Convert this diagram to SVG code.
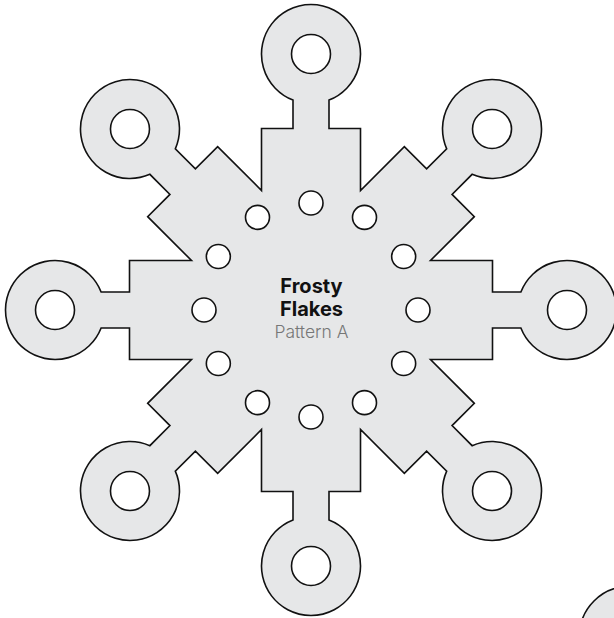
<svg xmlns="http://www.w3.org/2000/svg" width="614" height="618" viewBox="0 0 614 618">
<style>
.body{fill:#e6e7e8;stroke:#111;stroke-width:1.6;stroke-linejoin:miter}
.hole{fill:#fff;stroke:#111;stroke-width:1.6}
.t{font-family:Inter,"Liberation Sans",sans-serif;text-anchor:middle}
.b{font-weight:700;font-size:20px;fill:#111}
.r{font-weight:300;font-size:17.5px;fill:#777}
</style>
<rect width="614" height="618" fill="#fff"/>
<g id="snowflake">
<path class="body" d="M261.5,190.49 L261.5,128.5 L293,128.5 L293,100.11 A49.5,49.5 0 1 1 329,100.11 L329,128.5 L360.5,128.5 L360.5,190.49
L404.34,146.66 L426.61,168.93 L446.68,148.86 A49.5,49.5 0 1 1 472.14,174.32 L452.07,194.39 L474.34,216.66 L430.51,260.5
L492.5,260.5 L492.5,292 L520.89,292 A49.5,49.5 0 1 1 520.89,328 L492.5,328 L492.5,359.5 L430.51,359.5
L474.34,403.34 L452.07,425.61 L472.14,445.68 A49.5,49.5 0 1 1 446.68,471.14 L426.61,451.07 L404.34,473.34 L360.5,429.51
L360.5,491.5 L329,491.5 L329,519.89 A49.5,49.5 0 1 1 293,519.89 L293,491.5 L261.5,491.5 L261.5,429.51
L217.66,473.34 L195.39,451.07 L175.32,471.14 A49.5,49.5 0 1 1 149.86,445.68 L169.93,425.61 L147.66,403.34 L191.49,359.5
L129.5,359.5 L129.5,328 L101.11,328 A49.5,49.5 0 1 1 101.11,292 L129.5,292 L129.5,260.5 L191.49,260.5
L147.66,216.66 L169.93,194.39 L149.86,174.32 A49.5,49.5 0 1 1 175.32,148.86 L195.39,168.93 L217.66,146.66 Z"/>
<g id="ring-holes">
<circle class="hole" cx="311" cy="54" r="19.5"/>
<circle class="hole" cx="492.02" cy="128.98" r="19.5"/>
<circle class="hole" cx="567" cy="310" r="19.5"/>
<circle class="hole" cx="492.02" cy="491.02" r="19.5"/>
<circle class="hole" cx="311" cy="566" r="19.5"/>
<circle class="hole" cx="129.98" cy="491.02" r="19.5"/>
<circle class="hole" cx="55" cy="310" r="19.5"/>
<circle class="hole" cx="129.98" cy="128.98" r="19.5"/>
</g>
<g id="center-holes">
<circle class="hole" cx="311" cy="203" r="12"/>
<circle class="hole" cx="364.5" cy="217.34" r="12"/>
<circle class="hole" cx="403.66" cy="256.5" r="12"/>
<circle class="hole" cx="418" cy="310" r="12"/>
<circle class="hole" cx="403.66" cy="363.5" r="12"/>
<circle class="hole" cx="364.5" cy="402.66" r="12"/>
<circle class="hole" cx="311" cy="417" r="12"/>
<circle class="hole" cx="257.5" cy="402.66" r="12"/>
<circle class="hole" cx="218.34" cy="363.5" r="12"/>
<circle class="hole" cx="204" cy="310" r="12"/>
<circle class="hole" cx="218.34" cy="256.5" r="12"/>
<circle class="hole" cx="257.5" cy="217.34" r="12"/>
</g>
<g id="label">
<text class="t b" x="311.5" y="293">Frosty</text>
<text class="t b" x="311.5" y="315.5">Flakes</text>
<text class="t r" x="311.5" y="338">Pattern A</text>
</g>
</g>
<g id="next-piece">
<circle class="body" cx="629" cy="636" r="49.5"/>
</g>
</svg>
